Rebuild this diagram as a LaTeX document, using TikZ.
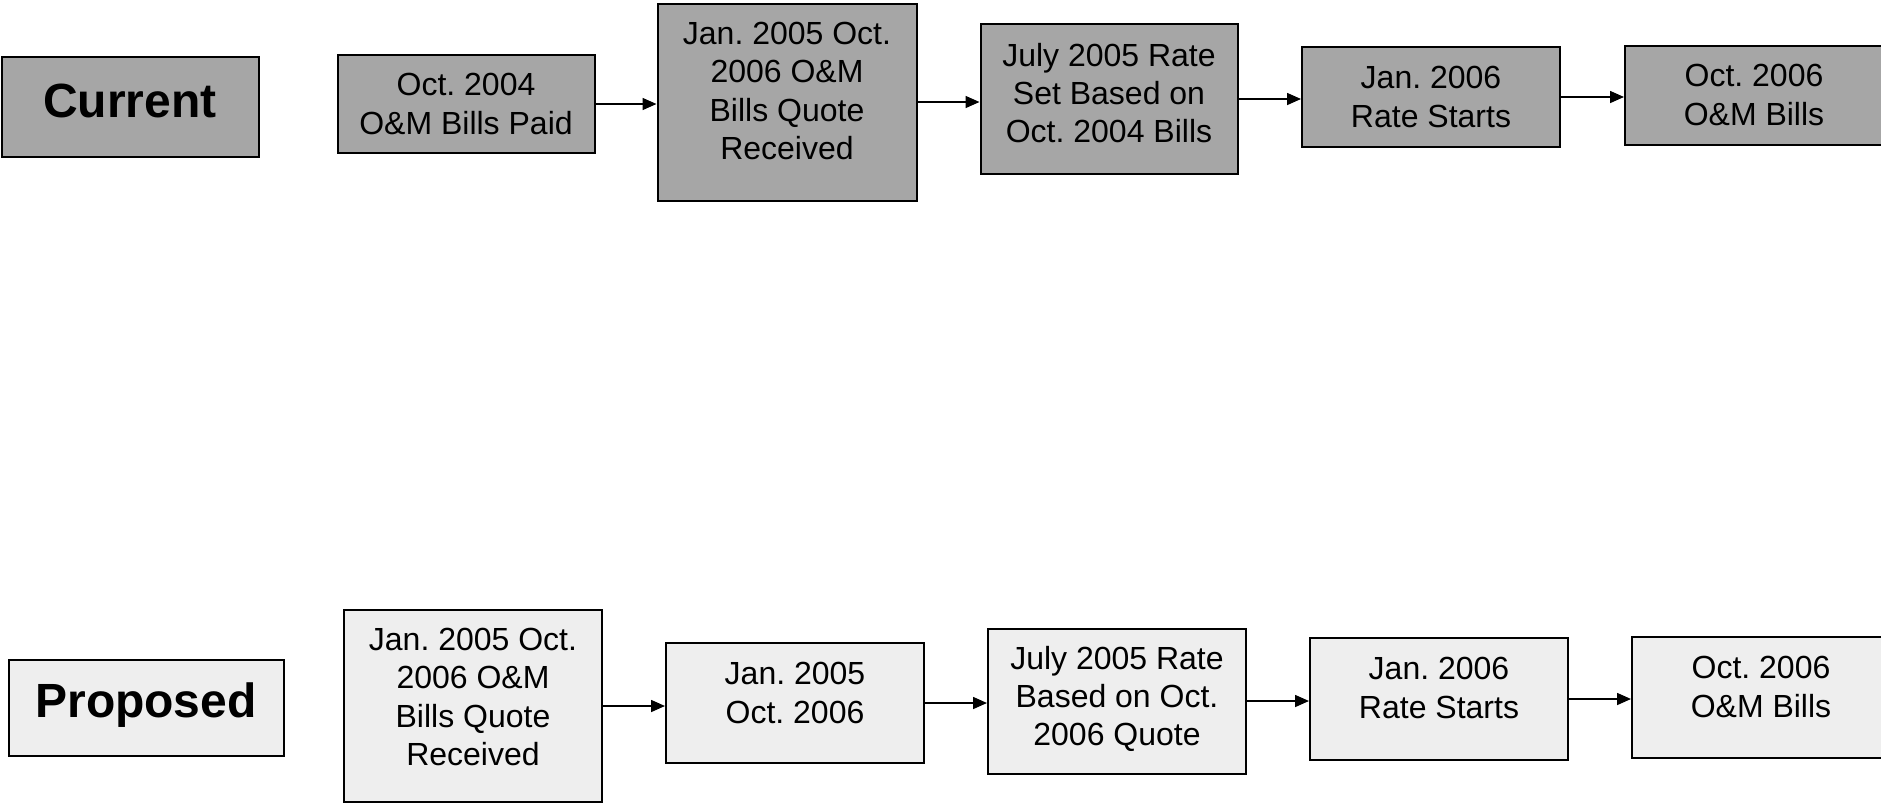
\documentclass[tikz,border=0pt]{standalone}
\usepackage{fontspec}
\setmainfont{Liberation Sans}
\usetikzlibrary{arrows.meta}
\definecolor{curgray}{RGB}{166,166,166}
\definecolor{propgray}{RGB}{238,238,238}
\begin{document}
\frenchspacing
\begin{tikzpicture}[x=0.5pt,y=-0.5pt,
  box/.style={draw=black, line width=1pt, inner sep=0pt},
  sz/.style 2 args={minimum width={#1*0.5pt}, minimum height={#2*0.5pt}},
  cur/.style={box, fill=curgray},
  prop/.style={box, fill=propgray},
  txt/.style={align=center, inner sep=0pt, font=\fontsize{16}{19.2}\selectfont},
  lbl/.style={inner sep=0pt, font=\fontsize{24}{28}\selectfont\bfseries},
  arr/.style={-{Triangle[length=7pt,width=6pt]}, line width=0.8pt}]
\useasboundingbox (0,0) rectangle (1881,804);
% current row
\node[cur, sz={257}{100}] (c0) at (130,107) {};
\node[lbl] (c0t) at (130,101) {Current};
\node[cur, sz={257}{98}] (c1) at (466,104) {};
\node[txt] (c1t) at (466,104) {Oct. 2004\\O\&M Bills Paid};
\node[cur, sz={259}{197}] (c2) at (787,102) {};
\node[txt] (c2t) at (787,91) {Jan. 2005 Oct.\\2006 O\&M\\Bills Quote\\Received};
\node[cur, sz={257}{150}] (c3) at (1109,99) {};
\node[txt] (c3t) at (1109,93) {July 2005 Rate\\Set Based on\\Oct. 2004 Bills};
\node[cur, sz={258}{100}] (c4) at (1431,97) {};
\node[txt] (c4t) at (1431,97) {Jan. 2006\\Rate Starts};
\node[cur, sz={258}{99}] (c5) at (1754,95) {};
\node[txt] (c5t) at (1754,95) {Oct. 2006\\O\&M Bills};
\foreach \a/\b in {c1/c2,c2/c3,c3/c4,c4/c5}
  \draw[arr] (\a.east) -- (\a.east -| \b.west);
% proposed row
\node[prop, sz={275}{96}] (p0) at (146,708) {};
\node[lbl] (p0t) at (146,705) {Proposed};
\node[prop, sz={258}{192}] (p1) at (473,706) {};
\node[txt] (p1t) at (473,697) {Jan. 2005 Oct.\\2006 O\&M\\Bills Quote\\Received};
\node[prop, sz={258}{120}] (p2) at (795,703) {};
\node[txt] (p2t) at (795,693) {Jan. 2005\\Oct. 2006};
\node[prop, sz={258}{145}] (p3) at (1117,701) {};
\node[txt] (p3t) at (1117,699) {July 2005 Rate\\Based on Oct.\\2006 Quote};
\node[prop, sz={258}{122}] (p4) at (1439,699) {};
\node[txt] (p4t) at (1439,688) {Jan. 2006\\Rate Starts};
\node[prop, sz={258}{121}] (p5) at (1761,697) {};
\node[txt] (p5t) at (1761,687) {Oct. 2006\\O\&M Bills};
\foreach \a/\b in {p1/p2,p2/p3,p3/p4,p4/p5}
  \draw[arr] (\a.east) -- (\a.east -| \b.west);
\end{tikzpicture}
\end{document}
